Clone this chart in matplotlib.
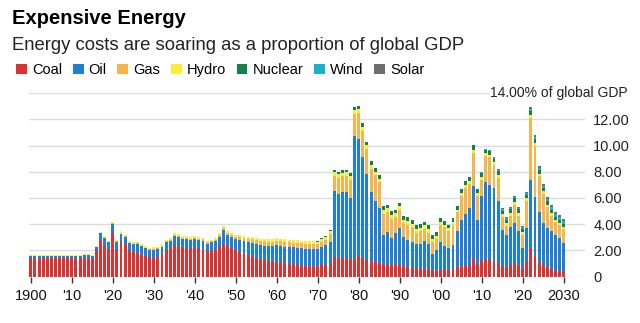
import matplotlib
matplotlib.use('Agg')
import matplotlib.pyplot as plt
from matplotlib.patches import Patch
import matplotlib.transforms as mtransforms

plt.rcParams['font.family'] = ['Liberation Sans', 'DejaVu Sans']

years = list(range(1900, 2031))

# % of global GDP, one value per year (1900-2030)
coal = [1.38, 1.36, 1.36, 1.42, 1.38, 1.38, 1.40, 1.42, 1.40, 1.40,
        1.42, 1.35, 1.40, 1.42, 1.45, 1.35, 1.95, 2.80, 2.35, 2.00,
        3.30, 2.00, 2.65, 2.50, 1.95, 1.85, 1.80, 1.65, 1.58, 1.48,
        1.45, 1.50, 1.70, 2.05, 2.20, 2.40, 2.30, 2.20, 2.20, 2.15,
        2.20, 2.15, 2.05, 1.95, 2.00, 2.05, 2.25, 2.45, 2.30, 2.15,
        2.05, 1.90, 1.75, 1.62, 1.52, 1.42, 1.30, 1.25, 1.20, 1.15,
        1.12, 1.06, 1.00, 0.96, 0.92, 0.88, 0.84, 0.80, 0.77, 0.75,
        0.82, 0.85, 0.87, 0.93, 1.50, 1.42, 1.45, 1.42, 1.35, 1.30,
        1.55, 1.45, 1.25, 1.15, 1.10, 1.05, 0.95, 0.90, 0.88, 0.92,
        0.90, 0.82, 0.72, 0.66, 0.62, 0.60, 0.58, 0.55, 0.50, 0.45,
        0.50, 0.55, 0.50, 0.55, 0.75, 0.80, 0.80, 0.90, 1.45, 0.95,
        1.20, 1.30, 1.25, 1.10, 1.00, 0.75, 0.70, 0.85, 1.00, 0.85,
        0.60, 1.20, 2.15, 1.60, 1.10, 0.90, 0.70, 0.55, 0.45, 0.40, 0.35]

oil = [0.18, 0.18, 0.18, 0.18, 0.18, 0.18, 0.18, 0.18, 0.18, 0.18,
       0.18, 0.18, 0.20, 0.20, 0.20, 0.20, 0.30, 0.50, 0.60, 0.60,
       0.75, 0.65, 0.60, 0.55, 0.60, 0.62, 0.70, 0.65, 0.60, 0.58,
       0.60, 0.60, 0.58, 0.60, 0.55, 0.70, 0.70, 0.70, 0.68, 0.65,
       0.65, 0.65, 0.70, 0.55, 0.60, 0.65, 0.80, 1.10, 0.90, 0.85,
       0.85, 0.90, 0.95, 1.00, 1.03, 1.05, 1.08, 1.10, 1.12, 1.15,
       1.25, 1.27, 1.28, 1.30, 1.30, 1.32, 1.32, 1.33, 1.34, 1.35,
       1.25, 1.40, 1.50, 1.70, 5.00, 4.85, 5.00, 5.05, 4.65, 9.45,
       8.95, 7.70, 6.55, 5.30, 4.70, 4.20, 2.20, 2.50, 2.10, 2.40,
       2.80, 2.20, 2.05, 2.00, 1.85, 1.90, 2.10, 1.95, 1.25, 1.60,
       2.15, 1.75, 1.70, 1.85, 2.70, 3.50, 4.00, 4.30, 5.45, 3.40,
       4.95, 5.95, 5.75, 5.65, 4.75, 2.80, 2.50, 2.95, 3.10, 2.60,
       1.55, 2.50, 5.20, 4.50, 3.85, 3.20, 3.00, 2.90, 2.75, 2.55, 2.20]

gas = ([0.0] * 20 +
       [0.03, 0.03, 0.03, 0.03, 0.03, 0.03, 0.03, 0.03, 0.03, 0.03,
        0.05, 0.05, 0.05, 0.05, 0.06, 0.08, 0.08, 0.08, 0.08, 0.08,
        0.10, 0.10, 0.10, 0.10, 0.10, 0.10, 0.12, 0.15, 0.15, 0.15,
        0.15, 0.20, 0.22, 0.25, 0.28, 0.30, 0.32, 0.33, 0.34, 0.35,
        0.35, 0.35, 0.35, 0.36, 0.36, 0.36, 0.37, 0.37, 0.37, 0.38,
        0.40, 0.42, 0.45, 0.60, 1.20, 1.25, 1.20, 1.20, 1.40, 1.70,
        2.00, 2.00, 1.95, 1.80, 1.95, 1.95, 1.65, 1.55, 1.45, 1.25,
        1.40, 1.05, 1.20, 1.10, 0.88, 0.95, 0.97, 0.85, 0.90, 0.82,
        1.30, 1.45, 1.25, 1.55, 1.45, 1.85, 2.00, 1.90, 2.55, 1.82,
        1.25, 1.95, 2.10, 1.75, 1.80, 1.00, 0.65, 0.85, 1.40, 1.20,
        1.00, 2.05, 4.75, 3.85, 2.70, 2.20, 1.60, 1.20, 0.95, 0.95, 1.05])

hydro = [0.08, 0.08, 0.08, 0.08, 0.08, 0.08, 0.08, 0.08, 0.08, 0.08,
         0.08, 0.08, 0.08, 0.08, 0.08, 0.08, 0.10, 0.12, 0.12, 0.10,
         0.12, 0.12, 0.12, 0.12, 0.12, 0.12, 0.12, 0.12, 0.12, 0.12,
         0.12, 0.12, 0.12, 0.12, 0.12, 0.13, 0.13, 0.13, 0.13, 0.13,
         0.13, 0.13, 0.13, 0.12, 0.12, 0.12, 0.13, 0.14, 0.14, 0.14,
         0.15, 0.16, 0.17, 0.17, 0.18, 0.20, 0.20, 0.20, 0.20, 0.20,
         0.20, 0.20, 0.20, 0.20, 0.20, 0.20, 0.20, 0.20, 0.20, 0.20,
         0.20, 0.20, 0.20, 0.22, 0.30, 0.28, 0.28, 0.28, 0.30, 0.30,
         0.30, 0.28, 0.28, 0.27, 0.27, 0.27, 0.25, 0.25, 0.25, 0.25,
         0.25, 0.25, 0.25, 0.25, 0.25, 0.25, 0.25, 0.25, 0.25, 0.25,
         0.22, 0.22, 0.22, 0.22, 0.22, 0.22, 0.22, 0.22, 0.25, 0.22,
         0.22, 0.22, 0.22, 0.22, 0.22, 0.22, 0.22, 0.22, 0.22, 0.22,
         0.22, 0.22, 0.25, 0.25, 0.22, 0.20, 0.20, 0.20, 0.18, 0.18, 0.18]

nuclear = ([0.0] * 60 +
           [0.00, 0.00, 0.00, 0.00, 0.00, 0.01, 0.01, 0.01, 0.02, 0.02,
            0.03, 0.04, 0.05, 0.08, 0.15, 0.15, 0.18, 0.20, 0.22, 0.20,
            0.22, 0.27, 0.28, 0.30, 0.30, 0.30, 0.30, 0.30, 0.30, 0.30,
            0.30, 0.30, 0.30, 0.30, 0.30, 0.30, 0.30, 0.30, 0.30, 0.30,
            0.30, 0.30, 0.30, 0.30, 0.30, 0.30, 0.30, 0.30, 0.32, 0.30,
            0.30, 0.28, 0.27, 0.27, 0.27, 0.27, 0.27, 0.27, 0.27, 0.27,
            0.27, 0.27, 0.30, 0.30, 0.28, 0.27, 0.25, 0.25, 0.25, 0.25, 0.25])

wind = ([0.0] * 100 +
        [0.00, 0.00, 0.00, 0.00, 0.00, 0.01, 0.01, 0.02, 0.03, 0.03,
         0.04, 0.05, 0.07, 0.08, 0.09, 0.10, 0.10, 0.10, 0.11, 0.11,
         0.12, 0.14, 0.18, 0.18, 0.17, 0.17, 0.18, 0.18, 0.19, 0.20, 0.20])

solar = ([0.0] * 110 +
         [0.01, 0.02, 0.04, 0.05, 0.06, 0.06, 0.07, 0.07, 0.08, 0.08,
          0.09, 0.10, 0.14, 0.14, 0.13, 0.13, 0.14, 0.15, 0.16, 0.16, 0.17])

series = [('Coal', coal, '#dc3232'), ('Oil', oil, '#1f7fd4'),
          ('Gas', gas, '#f5b54a'), ('Hydro', hydro, '#f7ee35'),
          ('Nuclear', nuclear, '#13814a'), ('Wind', wind, '#16b3d1'),
          ('Solar', solar, '#6e6e6e')]

xticks = list(range(1900, 2031, 10))
xlabels = ['1900', "'10", "'20", "'30", "'40", "'50", "'60", "'70",
           "'80", "'90", "'00", "'10", "'20", '2030']
yticks = [0, 2, 4, 6, 8, 10, 12]
ylabels = ['0', '2.00', '4.00', '6.00', '8.00', '10.00', '12.00']

fig = plt.figure(figsize=(6.4, 3.23), dpi=100)
ax = fig.add_axes([29 / 640, 1 - 276.5 / 323, 556 / 640, 183.2 / 323])

bottom = [0.0] * len(years)
for name, vals, col in series:
    ax.bar(years, vals, width=0.72, bottom=bottom, color=col, linewidth=0, zorder=3)
    bottom = [b + v for b, v in zip(bottom, vals)]

ax.set_xlim(1899.55, 2035.2)
ax.set_ylim(0, 14)
for s in ax.spines.values():
    s.set_visible(False)

for y in yticks:
    ax.axhline(y, color='#dcdcdc', linewidth=1, zorder=1)
ax.axhline(14, xmin=0, xmax=(488 - 29) / 556, color='#dcdcdc', linewidth=1, zorder=1)

ax.yaxis.tick_right()
ax.set_yticks(yticks)
ax.set_yticklabels(ylabels)
ax.tick_params(axis='y', length=0, pad=6, labelsize=10.5, labelcolor='#222222')
ax.set_xticks(xticks)
ax.set_xticklabels(xlabels)
ax.tick_params(axis='x', direction='out', length=4, width=1, color='#333333',
               pad=5, labelsize=10.5, labelcolor='#111111')

trans = mtransforms.blended_transform_factory(ax.transAxes, ax.transData)
ax.text((628 - 29) / 556, 14, '14.00% of global GDP', transform=trans,
        ha='right', va='center', fontsize=10, color='#222222')

fig.text(12 / 640, 1 - 18 / 323, 'Expensive Energy', fontsize=14.5, fontweight='bold',
         va='center', ha='left', color='#000000')
fig.text(12 / 640, 1 - 45 / 323, 'Energy costs are soaring as a proportion of global GDP',
         fontsize=13.3, va='center', ha='left', color='#222222')

handles = [Patch(facecolor=col, edgecolor='none', label=name) for name, vals, col in series]
fig.legend(handles=handles, loc='upper left', bbox_to_anchor=(16 / 640, 1 - 63 / 323),
           ncol=7, frameon=False, fontsize=10.5, handlelength=0.75, handleheight=0.75,
           handletextpad=0.35, columnspacing=0.72, borderpad=0, borderaxespad=0)

fig.savefig('out.png', dpi=100, facecolor='white')
